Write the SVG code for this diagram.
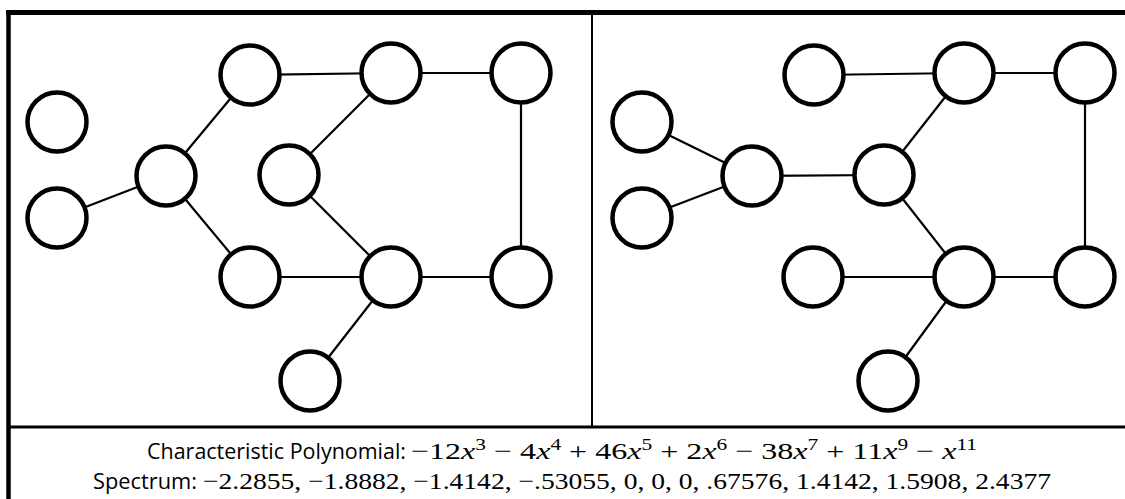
<svg xmlns="http://www.w3.org/2000/svg" width="1125" height="499" viewBox="0 0 1125 499">
<style>
.node{fill:#fff;stroke:#000;stroke-width:4.5}
.edge{stroke:#000;stroke-width:2.2;fill:none}
.frame{stroke:#000;fill:none}
.lbl{font-family:"Open Sans","Liberation Sans",sans-serif;font-size:22px;fill:#000}
.math{font-family:"Liberation Serif","DejaVu Serif",serif;font-size:24px;fill:#000}
.v{font-style:italic}
.sup{font-size:16px}
</style>
<rect width="1125" height="499" fill="#fff"/>
<g id="frame">
<line class="frame" x1="8.5" y1="10.5" x2="8.5" y2="499" stroke-width="4.5"/>
<line class="frame" x1="6" y1="12.5" x2="1125" y2="12.5" stroke-width="5"/>
<line class="frame" x1="592" y1="15" x2="592" y2="427" stroke-width="2"/>
<line class="frame" x1="9" y1="427" x2="1125" y2="427" stroke-width="3"/>
</g>
<g id="connectors">
<line class="edge" x1="57" y1="218" x2="166" y2="176"/>
<line class="edge" x1="166" y1="176" x2="250" y2="75"/>
<line class="edge" x1="166" y1="176" x2="250" y2="277"/>
<line class="edge" x1="250" y1="75" x2="391" y2="73"/>
<line class="edge" x1="391" y1="73" x2="521" y2="73"/>
<line class="edge" x1="391" y1="73" x2="289" y2="175"/>
<line class="edge" x1="289" y1="175" x2="391" y2="277"/>
<line class="edge" x1="250" y1="277" x2="391" y2="277"/>
<line class="edge" x1="391" y1="277" x2="521" y2="277"/>
<line class="edge" x1="521" y1="73" x2="521" y2="277"/>
<line class="edge" x1="391" y1="277" x2="310" y2="381"/>
<line class="edge" x1="642" y1="122" x2="752" y2="176"/>
<line class="edge" x1="642" y1="218" x2="752" y2="176"/>
<line class="edge" x1="752" y1="176" x2="884" y2="175"/>
<line class="edge" x1="814" y1="75" x2="964" y2="73"/>
<line class="edge" x1="964" y1="73" x2="1085" y2="73"/>
<line class="edge" x1="964" y1="73" x2="884" y2="175"/>
<line class="edge" x1="884" y1="175" x2="964" y2="277"/>
<line class="edge" x1="813" y1="277" x2="964" y2="277"/>
<line class="edge" x1="964" y1="277" x2="1085" y2="277"/>
<line class="edge" x1="1085" y1="73" x2="1085" y2="277"/>
<line class="edge" x1="964" y1="277" x2="888" y2="381"/>
</g>
<g id="L1"><circle class="node" cx="57" cy="122" r="29.5"/></g>
<g id="L2"><circle class="node" cx="57" cy="218" r="29.5"/></g>
<g id="L3"><circle class="node" cx="166" cy="176" r="29.5"/></g>
<g id="L4"><circle class="node" cx="250" cy="75" r="29.5"/></g>
<g id="L5"><circle class="node" cx="391" cy="73" r="29.5"/></g>
<g id="L6"><circle class="node" cx="521" cy="73" r="29.5"/></g>
<g id="L7"><circle class="node" cx="289" cy="175" r="29.5"/></g>
<g id="L8"><circle class="node" cx="250" cy="277" r="29.5"/></g>
<g id="L9"><circle class="node" cx="391" cy="277" r="29.5"/></g>
<g id="L10"><circle class="node" cx="521" cy="277" r="29.5"/></g>
<g id="L11"><circle class="node" cx="310" cy="381" r="29.5"/></g>
<g id="R1"><circle class="node" cx="642" cy="122" r="29.5"/></g>
<g id="R2"><circle class="node" cx="642" cy="218" r="29.5"/></g>
<g id="R3"><circle class="node" cx="752" cy="176" r="29.5"/></g>
<g id="R4"><circle class="node" cx="814" cy="75" r="29.5"/></g>
<g id="R5"><circle class="node" cx="964" cy="73" r="29.5"/></g>
<g id="R6"><circle class="node" cx="1085" cy="73" r="29.5"/></g>
<g id="R7"><circle class="node" cx="884" cy="175" r="29.5"/></g>
<g id="R8"><circle class="node" cx="813" cy="277" r="29.5"/></g>
<g id="R9"><circle class="node" cx="964" cy="277" r="29.5"/></g>
<g id="R10"><circle class="node" cx="1085" cy="277" r="29.5"/></g>
<g id="R11"><circle class="node" cx="888" cy="381" r="29.5"/></g>
<g id="caption">
<text class="lbl" x="147" y="459" textLength="259" lengthAdjust="spacingAndGlyphs">Characteristic Polynomial:</text>
<text class="math" x="411" y="459" textLength="566" lengthAdjust="spacingAndGlyphs">−12<tspan class="v">x</tspan><tspan class="sup" dy="-9">3</tspan><tspan dy="9"> − 4</tspan><tspan class="v">x</tspan><tspan class="sup" dy="-9">4</tspan><tspan dy="9"> + 46</tspan><tspan class="v">x</tspan><tspan class="sup" dy="-9">5</tspan><tspan dy="9"> + 2</tspan><tspan class="v">x</tspan><tspan class="sup" dy="-9">6</tspan><tspan dy="9"> − 38</tspan><tspan class="v">x</tspan><tspan class="sup" dy="-9">7</tspan><tspan dy="9"> + 11</tspan><tspan class="v">x</tspan><tspan class="sup" dy="-9">9</tspan><tspan dy="9"> − </tspan><tspan class="v">x</tspan><tspan class="sup" dy="-9">11</tspan></text>
<text class="lbl" x="93" y="489" textLength="104" lengthAdjust="spacingAndGlyphs">Spectrum:</text>
<text class="math" x="203" y="489" textLength="848" lengthAdjust="spacingAndGlyphs">−2.2855, −1.8882, −1.4142, −.53055, 0, 0, 0, .67576, 1.4142, 1.5908, 2.4377</text>
</g>
</svg>
